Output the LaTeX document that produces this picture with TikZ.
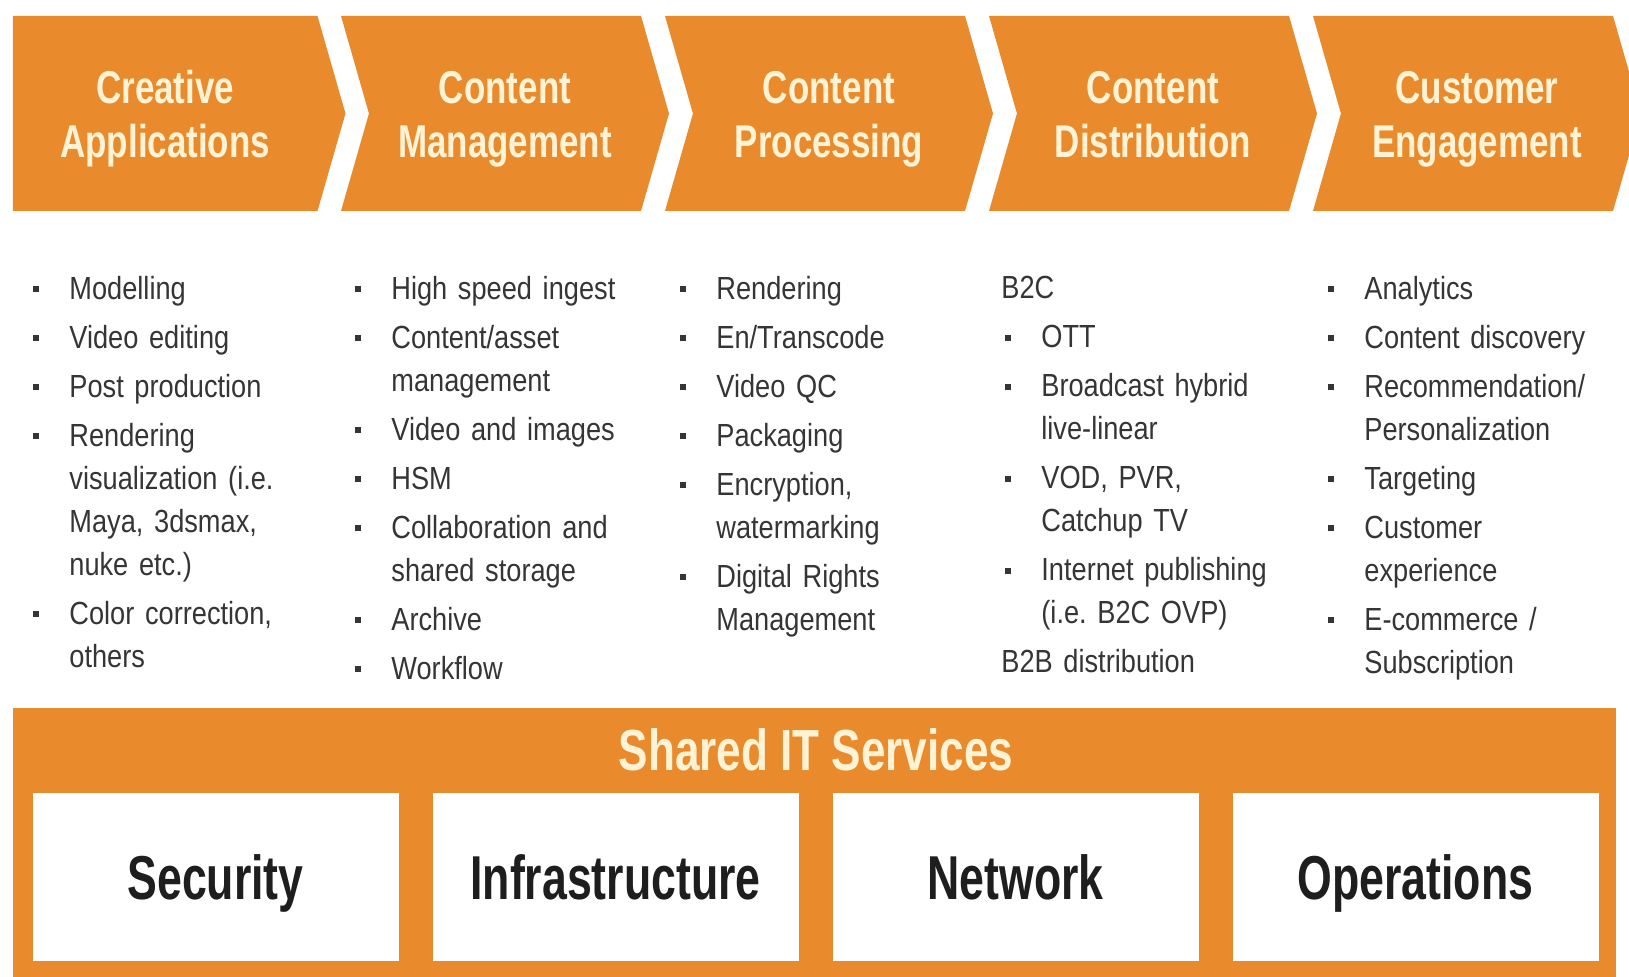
\documentclass[tikz,border=0pt]{standalone}
\usepackage{fontspec}
\setmainfont[FakeStretch=0.85]{Liberation Sans}
\newfontfamily\headfont[FakeStretch=0.76]{Liberation Sans}
\newfontfamily\boxfont[FakeStretch=0.72]{Liberation Sans}
\usepackage{enumitem}
\usetikzlibrary{shapes.symbols}
\usetikzlibrary{positioning}

\definecolor{vporange}{HTML}{E98A2D}
\definecolor{vpcream}{HTML}{FFF3D6}
\definecolor{vptext}{HTML}{353535}
\definecolor{vpdark}{HTML}{1E1E1E}

\frenchspacing
\newcommand{\sqbullet}{\raisebox{3.5pt}{\rule{3pt}{3pt}}}
\newcommand{\headtwo}[2]{\rule{0pt}{25pt}#1\\#2\strut}
\newlist{vplist}{itemize}{1}
\setlist[vplist]{label=\sqbullet, leftmargin=18pt, labelwidth=18pt,
  labelsep=0pt, align=left, itemsep=3pt, parsep=0pt, topsep=0pt, partopsep=0pt}

\begin{document}
\begin{tikzpicture}[
x=0.5pt, y=-0.5pt,
chevron/.style={
  signal,
  signal to=east,
  signal pointer angle=148,
  fill=vporange,
  inner sep=0pt,
  outer sep=0pt,
  minimum height=97.5pt,
  text=vpcream,
  align=center,
  font=\headfont\bfseries\fontsize{23}{27}\selectfont
  },
listcol/.style={
  anchor=north west,
  inner sep=0pt,
  text width=150pt,
  text=vptext,
  font=\fontsize{16}{21.5}\selectfont
  },
svcbox/.style={
  fill=white,
  inner sep=0pt,
  minimum width=183pt,
  minimum height=84pt,
  text height=23pt,
  text depth=0pt,
  text=vpdark,
  font=\boxfont\bfseries\fontsize{31}{36}\selectfont
  }
]
\useasboundingbox (0,0) rectangle (1629,977);

% value chain
\node[chevron, signal from=nowhere, minimum width=166.25pt] (h0) at (165.25,113.5)
  {\headtwo{Creative}{Applications}};
\foreach \hA/\hB [count=\k] in {Content/Management, Content/Processing,
    Content/Distribution, Customer/Engagement}
  \node[chevron, signal from=west, minimum width=164pt] (h\k) at (181+324*\k,113.5)
    {\headtwo{\hA}{\hB}};

% bullet columns
\node[listcol] (c1) at (33,256) {%
  \begin{vplist}
  \item Modelling
  \item Video editing
  \item Post production
  \item Rendering\\visualization (i.e.\\Maya, 3dsmax,\\nuke etc.)
  \item Color correction,\\others
  \end{vplist}};
\node[listcol] (c2) at (355,256) {%
  \begin{vplist}
  \item High speed ingest
  \item Content/asset\\management
  \item Video and images
  \item HSM
  \item Collaboration and\\shared storage
  \item Archive
  \item Workflow
  \end{vplist}};
\node[listcol] (c3) at (680,256) {%
  \begin{vplist}
  \item Rendering
  \item En/Transcode
  \item Video QC
  \item Packaging
  \item Encryption,\\watermarking
  \item Digital Rights\\Management
  \end{vplist}};
\node[listcol] (c4) at (1001,276) {%
  B2C
  \begin{vplist}[leftmargin=20pt, topsep=3pt]
  \item OTT
  \item Broadcast hybrid\\live-linear
  \item VOD, PVR,\\Catchup TV
  \item Internet publishing\\(i.e. B2C OVP)
  \end{vplist}
  B2B distribution};
\node[listcol] (c5) at (1328,256) {%
  \begin{vplist}
  \item Analytics
  \item Content discovery
  \item Recommendation/\\Personalization
  \item Targeting
  \item Customer\\experience
  \item E-commerce /\\Subscription
  \end{vplist}};

% shared services
\node[fill=vporange, inner sep=0pt, minimum width=801.75pt, minimum height=141pt,
  anchor=north west] (band) at (12.5,708) {};
\node[text=vpcream, font=\headfont\bfseries\fontsize{29}{33}\selectfont] (svc)
  at (816,750) {Shared IT Services};
\foreach \name [count=\i from 0] in {Security, Infrastructure, Network, Operations}
  \node[svcbox] (s\i) at (215.5+400*\i,877) {\name};
\end{tikzpicture}
\end{document}
